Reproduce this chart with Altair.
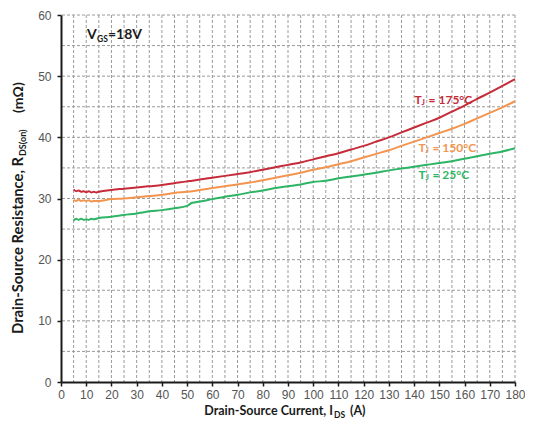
import altair as alt
import pandas as pd

# ---- data ----
current = [5, 6, 7, 8, 9, 10, 11, 12, 13, 14, 15, 20, 25, 30, 35, 40, 45, 50, 52,
           55, 60, 65, 70, 75, 80, 85, 90, 95, 100, 105, 110, 115, 120, 125, 130,
           135, 140, 145, 150, 155, 160, 165, 170, 175, 180]

r_175 = [31.5, 31.2, 31.3, 31.1, 31.2, 31.0, 31.2, 31.0, 31.1, 31.0, 31.1,
         31.4, 31.6, 31.8, 32.0, 32.2, 32.5, 32.8, 32.9,
         33.1, 33.4, 33.7, 34.0, 34.3, 34.7, 35.1, 35.5, 35.9, 36.4, 36.9, 37.4,
         38.0, 38.6, 39.3, 40.0, 40.8, 41.6, 42.4, 43.2, 44.2, 45.2, 46.3, 47.3,
         48.4, 49.5]

r_150 = [29.8, 29.6, 29.8, 29.6, 29.7, 29.6, 29.7, 29.5, 29.6, 29.6, 29.6,
         29.9, 30.0, 30.2, 30.4, 30.6, 30.9, 31.1, 31.2,
         31.4, 31.7, 32.0, 32.3, 32.6, 33.0, 33.4, 33.8, 34.2, 34.7, 35.1, 35.6,
         36.1, 36.7, 37.3, 37.9, 38.6, 39.3, 40.0, 40.7, 41.4, 42.2, 43.1, 44.0,
         44.9, 45.9]

r_25 = [26.4, 26.7, 26.5, 26.7, 26.5, 26.6, 26.5, 26.7, 26.6, 26.7, 26.8,
        27.0, 27.3, 27.55, 27.9, 28.1, 28.4, 28.8, 29.3,
        29.5, 29.9, 30.3, 30.6, 31.0, 31.3, 31.7, 32.0, 32.3, 32.7, 32.9, 33.3,
        33.6, 33.9, 34.2, 34.6, 34.9, 35.2, 35.5, 35.8, 36.1, 36.5, 36.9, 37.3,
        37.7, 38.2]

series_names = ["175", "150", "25"]
series_colors = ["#C62B3A", "#F3954F", "#2DB565"]

label_temps = ["= 175°C", "= 150°C", "= 25°C"]
label_x = [140.2, 141.7, 141.7]      # A, where "T" starts
label_y = [46.1, 38.2, 33.8]         # mOhm, text centre

x_ticks = [0, 10, 20, 30, 40, 50, 60, 70, 80, 90, 100, 110, 120, 130, 140, 150, 160, 170, 180]
y_ticks = [0, 10, 20, 30, 40, 50, 60]
grid_x = [5, 10, 15, 20, 25, 30, 35, 40, 45, 50, 55, 60, 65, 70, 75, 80, 85, 90, 95,
          100, 105, 110, 115, 120, 125, 130, 135, 140, 145, 150, 155, 160, 165, 170,
          175, 180]
grid_y = [5, 10, 15, 20, 25, 30, 35, 40, 45, 50, 55, 60]

# ---- build tables ----
rows = []
for name, vals in zip(series_names, [r_175, r_150, r_25]):
    for c, v in zip(current, vals):
        rows.append({"I": c, "R": v, "T": name})
df = pd.DataFrame(rows)

lab = pd.DataFrame({"T": series_names, "I": label_x, "R": label_y, "temp": label_temps})

W, H = 454, 367
TITLE_FONT = "Lato"
TICK_FONT = "Liberation Sans"

xscale = alt.Scale(domain=[0, 180], nice=False, zero=False)
yscale = alt.Scale(domain=[0, 60], nice=False)
color_scale = alt.Scale(domain=series_names, range=series_colors)

xaxis = alt.Axis(values=x_ticks, title=None, grid=False, domainColor="#1a1a1a",
                 domainWidth=2, tickColor="#1a1a1a", tickWidth=1.5, tickSize=4,
                 labelFont=TICK_FONT, labelFontSize=12, labelColor="#555555",
                 labelPadding=3, zindex=1, labelFlush=False, labelOverlap=False,
                 labelBound=False)
yaxis = alt.Axis(values=y_ticks, title=None, grid=False, domainColor="#1a1a1a",
                 domainWidth=2, tickColor="#1a1a1a", tickWidth=1.5, tickSize=4,
                 labelFont=TICK_FONT, labelFontSize=12, labelColor="#555555",
                 labelPadding=6, zindex=1, labelOverlap=False)

X = alt.X("I:Q", scale=xscale, axis=xaxis)
Y = alt.Y("R:Q", scale=yscale, axis=yaxis)

grid_style = dict(color="#9a9a9a", strokeDash=[3, 2], strokeWidth=1)
vgrid = alt.Chart(pd.DataFrame({"I": grid_x})).mark_rule(**grid_style).encode(x=X)
hgrid = alt.Chart(pd.DataFrame({"R": grid_y})).mark_rule(**grid_style).encode(y=Y)

lines = alt.Chart(df).mark_line(strokeWidth=2, interpolate="monotone").encode(
    x=X, y=Y,
    color=alt.Color("T:N", scale=color_scale, legend=None),
    detail="T:N",
)

lab_color = alt.Color("T:N", scale=color_scale, legend=None)
lab_T = alt.Chart(lab).mark_text(text="T", align="left", baseline="middle",
                                 font=TITLE_FONT, fontSize=12, fontWeight="bold").encode(
    x=X, y=Y, color=lab_color)
lab_J = alt.Chart(lab).mark_text(text="J", align="left", baseline="middle",
                                 font=TITLE_FONT, fontSize=8, fontWeight="bold",
                                 dx=7, dy=3).encode(
    x=X, y=Y, color=lab_color)
lab_rest = alt.Chart(lab).mark_text(align="left", baseline="middle",
                                    font=TITLE_FONT, fontSize=12, fontWeight="bold",
                                    dx=14).encode(
    x=X, y=Y, text="temp:N", color=lab_color)


def txt(s, x, y, size, align="left", angle=0, dy=0, color="#1a1a1a"):
    kw = dict(align=align, baseline="middle", font=TITLE_FONT, fontSize=size,
              fontWeight="bold", color=color, dy=dy)
    if angle:
        kw["angle"] = angle
    return alt.Chart(pd.DataFrame({"s": [s]})).mark_text(**kw).encode(
        x=alt.value(x), y=alt.value(y), text="s:N")


# V_GS annotation (pixel positions relative to plot origin)
vgs = [
    txt("V", 26, 20, 14),
    txt("GS", 36, 20, 8.5, dy=4),
    txt("=18V", 47, 20, 14),
]

# x-axis title
xt = [
    txt("Drain-Source Current, I", 272, 396, 12.5, align="right"),
    txt("DS", 273, 396, 8.5, dy=4),
    txt("(A)", 289, 396, 12.5),
]

# y-axis title (rotated)
yt = [
    txt("Drain-Source Resistance, R", -42, 142, 14.8, align="right", angle=270),
    txt("DS(on)", -42, 141, 9, angle=270, dy=4),
    txt("(mΩ)", -42, 98, 14, angle=270),
]

chart = alt.layer(vgrid, hgrid, lines, lab_T, lab_J, lab_rest, *vgs, *xt, *yt).properties(
    width=W, height=H,
    padding={"left": 53, "top": 7, "right": 10, "bottom": 38},
    autosize=alt.AutoSizeParams(type="none"),
    background="white",
).configure_view(stroke=None).configure_axis(labelOverlap=False)

chart.save("out.html", embed_options={"renderer": "svg", "actions": False})
